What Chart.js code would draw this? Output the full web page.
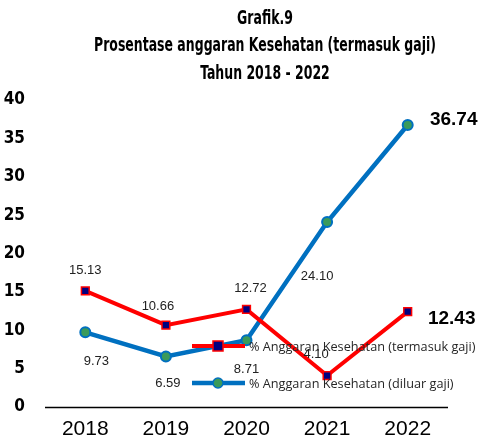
<!DOCTYPE html>
<html>
<head>
<meta charset="utf-8">
<script src="https://cdn.jsdelivr.net/npm/chart.js@4"></script>
<style>
  html, body { margin: 0; padding: 0; background: #fff; }
  #wrap { width: 479px; height: 438px; }
</style>
</head>
<body>
<div id="wrap"><canvas id="grafik9" width="479" height="438"></canvas></div>
<script>
const years = ['2018', '2019', '2020', '2021', '2022'];
const termasukGaji = [15.13, 10.66, 12.72, 4.10, 12.43];
const diluarGaji = [9.73, 6.59, 8.71, 24.10, 36.74];
const yTicks = [0, 5, 10, 15, 20, 25, 30, 35, 40];
const titleLines = ['Grafik.9', 'Prosentase anggaran Kesehatan (termasuk gaji)', 'Tahun 2018 - 2022'];
const seriesNames = ['% Anggaran Kesehatan (termasuk gaji)', '% Anggaran Kesehatan (diluar gaji)'];

const narrow = "'DejaVu Sans Condensed', 'Liberation Sans Narrow', sans-serif";

// label offsets relative to each point (dx, dy)
const labelOffsets = [
    [[0, -20], [-8, -19], [4, -21], [-11, -21], [44, 7]],
    [[11, 29], [2, 27], [0, 29], [-10, 54], [46, -5]]
];
const bigLabel = 4; // last point of each series is drawn large and bold

const extras = {
    id: 'extras',
    afterDraw(chart) {
        const ctx = chart.ctx;
        const area = chart.chartArea;
        ctx.save();

        // title, squeezed to look like a condensed face
        ctx.fillStyle = '#000';
        ctx.textAlign = 'center';
        ctx.textBaseline = 'middle';
        ctx.font = 'bold 19px ' + narrow;
        const sx = 342 / ctx.measureText(titleLines[1]).width;
        titleLines.forEach((t, i) => {
            ctx.save();
            ctx.translate(265, 19 + i * 27.5);
            ctx.scale(sx, 1);
            ctx.fillText(t, 0, 0);
            ctx.restore();
        });

        // x axis line
        ctx.strokeStyle = '#000';
        ctx.lineWidth = 1.5;
        ctx.beginPath();
        ctx.moveTo(area.left, area.bottom + 0.5);
        ctx.lineTo(area.right, area.bottom + 0.5);
        ctx.stroke();

        // value labels
        chart.data.datasets.forEach((ds, di) => {
            const meta = chart.getDatasetMeta(di);
            meta.data.forEach((pt, i) => {
                const off = labelOffsets[di][i];
                if (i === bigLabel) {
                    ctx.font = 'bold 19px Liberation Sans, Arial, sans-serif';
                    ctx.fillStyle = '#000';
                } else {
                    ctx.font = '13px Liberation Sans, Arial, sans-serif';
                    ctx.fillStyle = '#222';
                }
                ctx.fillText(ds.data[i].toFixed(2), pt.x + off[0], pt.y + off[1]);
            });
        });

        // legend inside plot
        chart.data.datasets.forEach((ds, di) => {
            const y = 346 + di * 37;
            ctx.strokeStyle = ds.borderColor;
            ctx.lineWidth = ds.borderWidth;
            ctx.beginPath();
            ctx.moveTo(192, y);
            ctx.lineTo(245, y);
            ctx.stroke();
            ctx.fillStyle = ds.pointBackgroundColor;
            ctx.strokeStyle = ds.pointBorderColor;
            ctx.lineWidth = 1.5;
            if (ds.pointStyle === 'rect') {
                ctx.fillRect(213, y - 5, 10, 10);
                ctx.strokeRect(213, y - 5, 10, 10);
            } else {
                ctx.beginPath();
                ctx.arc(218, y, 5, 0, Math.PI * 2);
                ctx.fill();
                ctx.stroke();
            }
            ctx.fillStyle = '#262626';
            ctx.textAlign = 'left';
            ctx.font = '12.7px "Open Sans", "Noto Sans", sans-serif';
            ctx.fillText(seriesNames[di], 249, y + 1);
            ctx.textAlign = 'center';
        });
        ctx.restore();
    }
};

new Chart(document.getElementById('grafik9'), {
    type: 'line',
    data: {
        labels: years,
        datasets: [{
            label: seriesNames[0],
            data: termasukGaji,
            borderColor: '#FF0000',
            borderWidth: 4,
            pointStyle: 'rect',
            pointRadius: 5.5,
            pointBackgroundColor: '#000080',
            pointBorderColor: '#FF0000',
            pointBorderWidth: 1.5,
            tension: 0
        }, {
            label: seriesNames[1],
            data: diluarGaji,
            borderColor: '#0070C0',
            borderWidth: 4.5,
            pointStyle: 'circle',
            pointRadius: 5,
            pointBackgroundColor: '#3A9A5B',
            pointBorderColor: '#0070C0',
            pointBorderWidth: 2,
            tension: 0
        }]
    },
    options: {
        responsive: false,
        animation: false,
        layout: { padding: { top: 100, right: 31, left: 0, bottom: 0 } },
        plugins: {
            legend: { display: false },
            title: { display: false },
            tooltip: { enabled: false }
        },
        scales: {
            x: {
                offset: true,
                grid: { display: false, drawTicks: false, offset: true },
                border: { display: false },
                ticks: {
                    color: '#000',
                    font: { family: 'Liberation Sans, Arial, sans-serif', size: 21 },
                    padding: 10
                },
                afterFit(scale) { scale.height = 31; }
            },
            y: {
                min: 0,
                max: 40,
                afterBuildTicks(scale) { scale.ticks = yTicks.map(v => ({ value: v })); },
                grid: { display: false, drawTicks: false },
                border: { display: false },
                ticks: {
                    color: '#000',
                    font: { family: narrow, size: 17, weight: 'bold' },
                    padding: 20
                },
                afterFit(scale) { scale.width = 45; }
            }
        }
    },
    plugins: [extras]
});
</script>
</body>
</html>
